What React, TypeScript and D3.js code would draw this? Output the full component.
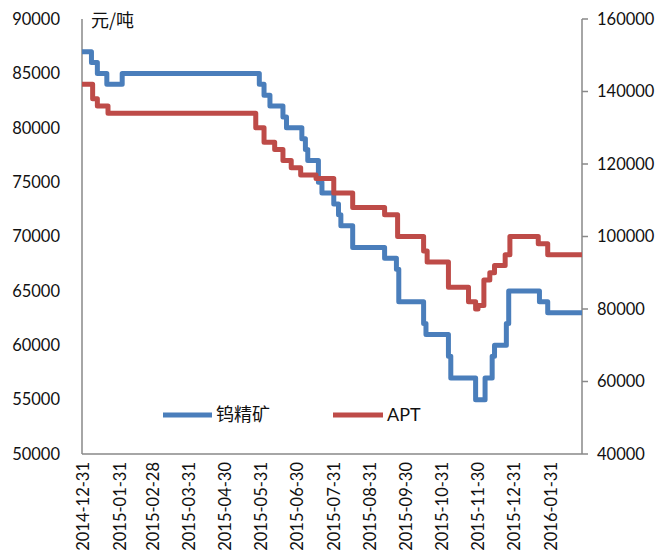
import { useEffect } from 'react';
import * as d3 from 'd3';

// 钨精矿 (left axis), step change dates and values
const wolframDates = [
  '2014-12-30', '2015-01-07', '2015-01-12', '2015-01-20', '2015-02-02',
  '2015-05-29', '2015-06-02', '2015-06-07', '2015-06-18', '2015-06-21',
  '2015-07-04', '2015-07-07', '2015-07-09', '2015-07-18', '2015-07-21',
  '2015-07-31', '2015-08-04', '2015-08-06', '2015-08-16', '2015-09-12',
  '2015-09-22', '2015-09-24', '2015-10-15', '2015-10-17', '2015-11-05',
  '2015-11-07', '2015-11-28', '2015-12-06', '2015-12-12', '2015-12-14',
  '2015-12-24', '2015-12-26', '2016-01-21', '2016-01-28', '2016-02-26',
];
const wolframValues = [
  87000, 86000, 85000, 84000, 85000,
  84000, 83000, 82000, 81000, 80000,
  79000, 78000, 77000, 75000, 74000,
  73000, 72000, 71000, 69000, 68000,
  67000, 64000, 62000, 61000, 59000,
  57000, 55000, 57000, 59000, 60000,
  62000, 65000, 64000, 63000, 63000,
];

// APT (right axis)
const aptDates = [
  '2014-12-30', '2015-01-08', '2015-01-12', '2015-01-21', '2015-05-26',
  '2015-06-02', '2015-06-11', '2015-06-18', '2015-06-25', '2015-07-03',
  '2015-07-16', '2015-07-31', '2015-08-16', '2015-09-12', '2015-09-23',
  '2015-10-15', '2015-10-18', '2015-11-05', '2015-11-22', '2015-11-28',
  '2015-11-30', '2015-12-05', '2015-12-10', '2015-12-14', '2015-12-23',
  '2015-12-27', '2016-01-20', '2016-01-28', '2016-02-26',
];
const aptValues = [
  142000, 138000, 136000, 134000, 130000,
  126000, 124000, 121000, 119000, 117000,
  116000, 112000, 108000, 106000, 100000,
  96000, 93000, 86000, 82000, 80000,
  81000, 88000, 90000, 92000, 95000,
  100000, 98000, 95000, 95000,
];

const xTickLabels = [
  '2014-12-31', '2015-01-31', '2015-02-28', '2015-03-31', '2015-04-30',
  '2015-05-31', '2015-06-30', '2015-07-31', '2015-08-31', '2015-09-30',
  '2015-10-31', '2015-11-30', '2015-12-31', '2016-01-31',
];
const leftTicks = [50000, 55000, 60000, 65000, 70000, 75000, 80000, 85000, 90000];
const rightTicks = [40000, 60000, 80000, 100000, 120000, 140000, 160000];

const BLUE = '#4A7EBB';
const RED = '#BE4B48';
const AXIS = '#898989';
const FONT = "Lato, 'Noto Sans', sans-serif";
const CJK = "'Noto Sans CJK SC', sans-serif";

export default function App() {
  useEffect(() => {
    document.body.style.margin = '0';
  }, []);

  const width = 670;
  const height = 554;
  const plot = { left: 82, right: 582, top: 19, bottom: 454 };

  const parse = d3.timeParse('%Y-%m-%d');
  const x = d3
    .scaleTime()
    .domain([parse('2014-12-30')!, parse('2016-02-26')!])
    .range([plot.left, plot.right]);
  const yL = d3.scaleLinear().domain([50000, 90000]).range([plot.bottom, plot.top]);
  const yR = d3.scaleLinear().domain([40000, 160000]).range([plot.bottom, plot.top]);

  const wolfram = wolframDates.map((d, i) => ({ date: parse(d)!, v: wolframValues[i] }));
  const apt = aptDates.map((d, i) => ({ date: parse(d)!, v: aptValues[i] }));

  const lineL = d3
    .line<{ date: Date; v: number }>()
    .x((d) => x(d.date))
    .y((d) => yL(d.v))
    .curve(d3.curveStepAfter);
  const lineR = d3
    .line<{ date: Date; v: number }>()
    .x((d) => x(d.date))
    .y((d) => yR(d.v))
    .curve(d3.curveStepAfter);

  return (
    <svg width={width} height={height} style={{ display: 'block', background: '#fff' }}>
      {/* axes frame */}
      <line x1={plot.left} x2={plot.left} y1={plot.top} y2={plot.bottom} stroke={AXIS} strokeWidth={1.5} />
      <line x1={plot.right} x2={plot.right} y1={plot.top} y2={plot.bottom} stroke={AXIS} strokeWidth={1.5} />
      <line x1={plot.left} x2={plot.right} y1={plot.bottom} y2={plot.bottom} stroke={AXIS} strokeWidth={1.5} />

      {/* left tick labels */}
      {leftTicks.map((t) => (
        <text key={t} x={60} y={yL(t)} dy="0.35em" textAnchor="end" fontFamily={FONT} fontSize={16.5} fill="#111">
          {t}
        </text>
      ))}

      {/* right ticks + labels */}
      {rightTicks.map((t) => (
        <g key={t}>
          <line x1={plot.right} x2={plot.right + 6} y1={yR(t)} y2={yR(t)} stroke={AXIS} strokeWidth={1.5} />
          <text x={597} y={yR(t)} dy="0.35em" fontFamily={FONT} fontSize={16.5} fill="#111">
            {t}
          </text>
        </g>
      ))}

      {/* x labels */}
      {xTickLabels.map((s) => {
        const px = x(parse(s)!);
        return (
          <text
            key={s}
            transform={`translate(${px},${462}) rotate(-90)`}
            dy="0.35em"
            textAnchor="end"
            fontFamily={FONT}
            fontSize={16.5}
            fill="#111"
          >
            {s}
          </text>
        );
      })}

      {/* unit */}
      <text x={91} y={27} fontFamily={CJK} fontSize={18} fill="#111">
        元/吨
      </text>

      {/* series */}
      <path d={lineL(wolfram) ?? ''} fill="none" stroke={BLUE} strokeWidth={5} strokeLinejoin="round" />
      <path d={lineR(apt) ?? ''} fill="none" stroke={RED} strokeWidth={5} strokeLinejoin="round" />

      {/* legend */}
      <line x1={163} x2={212} y1={415} y2={415} stroke={BLUE} strokeWidth={5} />
      <text x={216} y={415} dy="0.35em" fontFamily={CJK} fontSize={18} fill="#111">
        钨精矿
      </text>
      <line x1={333} x2={383} y1={415} y2={415} stroke={RED} strokeWidth={5} />
      <text x={387} y={415} dy="0.35em" fontFamily={FONT} fontSize={18} fill="#111">
        APT
      </text>
    </svg>
  );
}
